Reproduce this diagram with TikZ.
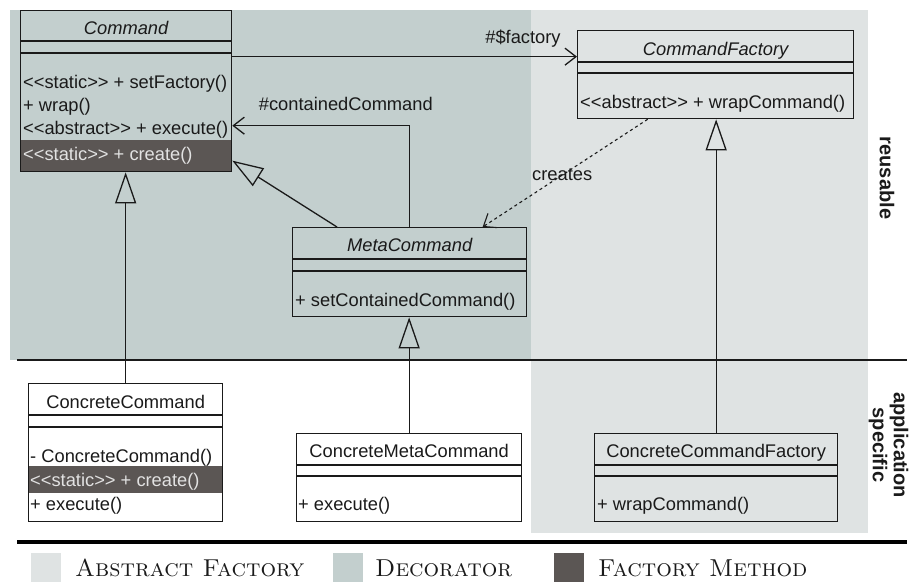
\documentclass[tikz,border=0pt]{standalone}
\usepackage{fontspec}
\setsansfont{Liberation Sans}
\usetikzlibrary{arrows.meta,calc}
\definecolor{decor}{HTML}{C3CFCE}
\definecolor{absfac}{HTML}{DFE3E3}
\definecolor{facmeth}{HTML}{5B5654}
\definecolor{bandtxt}{HTML}{E2E2E2}
\definecolor{ink}{HTML}{1A1A1A}
\newcommand\stereo[1]{<\kern0pt<#1>\kern0pt>}
\begin{document}
\begin{tikzpicture}[x=1pt,y=-1pt,
  umlbox/.style={draw=ink,line width=1.3pt,anchor=north west,inner sep=0pt},
  umltxt/.style={font=\sffamily\fontsize{18.3}{22}\selectfont,inner sep=0pt,text=ink},
  cname/.style={umltxt,anchor=base},
  mth/.style={umltxt,anchor=base west},
  bandm/.style={mth,text=bandtxt},
  sep/.style={draw=ink,line width=1.3pt},
  conn/.style={draw=ink,line width=1.3pt},
  gen/.style={conn,-{Triangle[open,length=31pt,width=21pt]}},
  assoc/.style={conn,-{Straight Barb[length=11pt,width=17pt]}},
  dep/.style={conn,line width=1.1pt,dash pattern=on 3pt off 3pt,-{Straight Barb[length=11pt,width=17pt]}},
  side/.style={font=\sffamily\bfseries\fontsize{20}{21}\selectfont,inner sep=0pt,text=ink,rotate=-90,align=center},
  legtxt/.style={font=\fontsize{24.5}{26}\selectfont\scshape,inner sep=0pt,anchor=base west,text=ink},
  legsq/.style={anchor=north west,minimum width=30pt,minimum height=29pt,inner sep=0pt}
]
\useasboundingbox (0,0) rectangle (911,582);
% background regions
\fill[decor] (10,10) rectangle (531,360);
\fill[absfac] (531,10) rectangle (868,533);
% factory method bands
\fill[facmeth] (20,140) rectangle (231,171);
\fill[facmeth] (28,466) rectangle (222,493);
% separators of the layers
\draw[line width=2.8pt,ink] (17,360) -- (907,360);
\draw[line width=3.5pt,black] (17,542) -- (907,542);

% classes
\node[umlbox,minimum width=211pt,minimum height=161pt] (cmd) at (20,10) {};
\node[umlbox,minimum width=276pt,minimum height=88pt] (cf) at (577,30) {};
\node[umlbox,minimum width=234pt,minimum height=89pt] (mc) at (292,227) {};
\node[umlbox,minimum width=194pt,minimum height=138pt] (ccmd) at (28,383) {};
\node[umlbox,minimum width=225pt,minimum height=88pt] (cmc) at (296,433) {};
\node[umlbox,minimum width=243pt,minimum height=88pt] (ccf) at (594,433) {};

% compartments
\draw[sep] (cmd.west |- 0,41) -- (cmd.east |- 0,41);
\draw[sep] (cmd.west |- 0,53) -- (cmd.east |- 0,53);
\draw[sep] (cf.west |- 0,62) -- (cf.east |- 0,62);
\draw[sep] (cf.west |- 0,73) -- (cf.east |- 0,73);
\draw[sep] (mc.west |- 0,259) -- (mc.east |- 0,259);
\draw[sep] (mc.west |- 0,271) -- (mc.east |- 0,271);
\draw[sep] (ccmd.west |- 0,415) -- (ccmd.east |- 0,415);
\draw[sep] (ccmd.west |- 0,427) -- (ccmd.east |- 0,427);
\draw[sep] (cmc.west |- 0,465) -- (cmc.east |- 0,465);
\draw[sep] (cmc.west |- 0,476) -- (cmc.east |- 0,476);
\draw[sep] (ccf.west |- 0,465) -- (ccf.east |- 0,465);
\draw[sep] (ccf.west |- 0,476) -- (ccf.east |- 0,476);

% texts of the classes
\node[cname,font=\sffamily\itshape\fontsize{18.3}{22}\selectfont] (cmdN) at (cmd.north |- 0,34) {Command};
\node[mth] (cmdM1) at (23,88) {\stereo{static} + setFactory()};
\node[mth] (cmdM2) at (23,111) {+ wrap()};
\node[mth] (cmdM3) at (23,134) {\stereo{abstract} + execute()};
\node[bandm] (cmdM4) at (23,160) {\stereo{static} + create()};

\node[cname,font=\sffamily\itshape\fontsize{18.3}{22}\selectfont] (cfN) at (cf.north |- 0,55) {CommandFactory};
\node[mth] (cfM1) at (580,108) {\stereo{abstract} + wrapCommand()};

\node[cname,font=\sffamily\itshape\fontsize{18.3}{22}\selectfont] (mcN) at (mc.north |- 0,251) {MetaCommand};
\node[mth] (mcM1) at (295,306) {+ setContainedCommand()};

\node[cname] (ccmdN) at (ccmd.north |- 0,408) {ConcreteCommand};
\node[mth] (ccmdM1) at (30,462) {- ConcreteCommand()};
\node[bandm] (ccmdM2) at (30,486) {\stereo{static} + create()};
\node[mth] (ccmdM3) at (30,510) {+ execute()};

\node[cname] (cmcN) at (cmc.north |- 0,457) {ConcreteMetaCommand};
\node[mth] (cmcM1) at (298,510) {+ execute()};

\node[cname] (ccfN) at (ccf.north |- 0,457) {ConcreteCommandFactory};
\node[mth] (ccfM1) at (597,510) {+ wrapCommand()};

% connectors
\coordinate (facEnd) at ([yshift=18pt]cf.west);
\draw[assoc] (cmd.east |- facEnd) -- (facEnd);
\node[umltxt,anchor=base] (facLbl) at (523,43) {\#\$factory};

\coordinate (ccEnd) at ([yshift=-34.5pt]cmd.east);
\draw[assoc] (mc.north) |- (ccEnd);
\node[umltxt,anchor=base east] (ccLbl) at (433,110) {\#containedCommand};

\draw[gen] ([xshift=45pt]mc.north west) -- ([yshift=-69.5pt]cmd.east);

\draw[dep] ([xshift=-68pt]cf.south) -- ([xshift=73pt]mc.north);
\node[umltxt,anchor=base west] (crLbl) at (532,180) {creates};

\draw[gen] (ccmd.north) -- (ccmd.north |- cmd.south);
\draw[gen] (cmc.north) -- (cmc.north |- mc.south);
\draw[gen] (ccf.north) -- (ccf.north |- cf.south);

% side labels
\node[side] (reus) at (887,178) {reusable};
\node[side] (appl) at (888.5,445) {application\\specific};

% legend
\node[legsq,fill=absfac] (lgA) at (31,553) {};
\node[legtxt] (lgAt) at (75,576) {Abstract Factory};
\node[legsq,fill=decor] (lgD) at (333,553) {};
\node[legtxt] (lgDt) at (375,576) {Decorator};
\node[legsq,fill=facmeth] (lgF) at (554,553) {};
\node[legtxt] (lgFt) at (598,576) {Factory Method};
\end{tikzpicture}
\end{document}
